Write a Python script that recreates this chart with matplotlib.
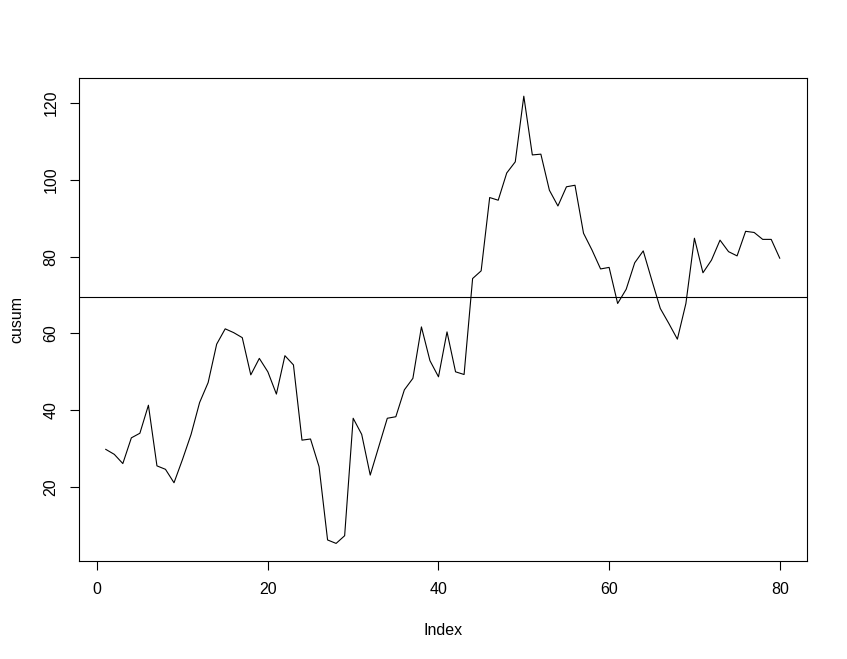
import matplotlib
matplotlib.use("Agg")
import matplotlib.pyplot as plt
import numpy as np

plt.rcParams['font.family'] = ['Liberation Sans', 'DejaVu Sans']

# cumulative sum series (index 1..80)
cusum = [29.8, 28.5, 26.1, 32.8, 34.0, 41.3, 25.5, 24.6, 21.1, 27.2,
         33.7, 42.0, 47.2, 57.2, 61.2, 60.2, 58.9, 49.2, 53.5, 50.0,
         44.2, 54.2, 51.8, 32.2, 32.5, 25.3, 6.2, 5.3, 7.3, 37.9,
         33.7, 23.1, 30.5, 37.9, 38.3, 45.3, 48.3, 61.7, 52.9, 48.7,
         60.4, 50.0, 49.3, 74.3, 76.3, 95.4, 94.7, 101.8, 104.7, 121.8,
         106.5, 106.7, 97.3, 93.2, 98.2, 98.6, 86.1, 81.7, 76.8, 77.2,
         67.8, 71.5, 78.4, 81.5, 73.9, 66.5, 62.6, 58.5, 67.8, 84.8,
         75.8, 79.1, 84.3, 81.3, 80.2, 86.6, 86.3, 84.5, 84.5, 79.6]
index = list(range(1, len(cusum) + 1))
mean_line = 69.4

x_ticks = [0, 20, 40, 60, 80]
y_ticks = [20, 40, 60, 80, 100, 120]

fig = plt.figure(figsize=(8.47, 6.59), dpi=100)
ax = fig.add_axes([78.8 / 847, 1 - 561.3 / 659, (806.7 - 78.8) / 847, (561.3 - 78.3) / 659])

ax.plot(index, cusum, color='black', linewidth=0.8)
ax.axhline(mean_line, color='black', linewidth=0.8)

# R style 4% padding on both axes
def padded(vals):
    lo, hi = min(vals), max(vals)
    d = (hi - lo) * 0.04
    return lo - d, hi + d

ax.set_xlim(*padded(index))
ax.set_ylim(*padded(cusum))

ax.set_xticks(x_ticks)
ax.set_yticks(y_ticks)
ax.tick_params(direction='out', length=6.7, width=0.8, labelsize=11.5, pad=8)
ax.tick_params(axis='y', labelrotation=90)
for lab in ax.get_yticklabels():
    lab.set_va('center')

for s in ax.spines.values():
    s.set_linewidth(0.8)

ax.set_xlabel('Index', fontsize=11.5, labelpad=19)
ax.set_ylabel('cusum', fontsize=11.5, labelpad=14)

fig.savefig('out.png', dpi=100)
